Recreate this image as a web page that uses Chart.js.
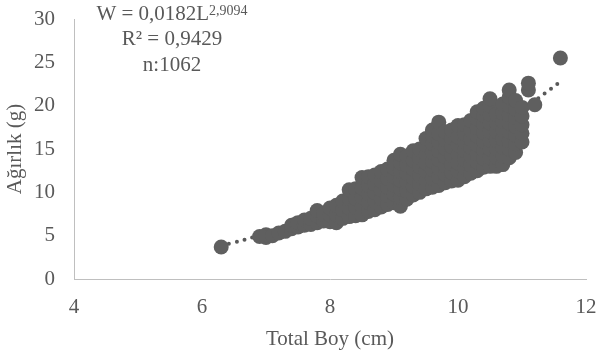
<!DOCTYPE html>
<html><head><meta charset="utf-8">
<script src="https://cdn.jsdelivr.net/npm/chart.js@4"></script>
<style>html,body{margin:0;padding:0;background:#fff;} #wrap{width:598px;height:354px;position:relative;}</style>
</head><body><div id="wrap"><canvas id="c" width="598" height="354"></canvas></div>
<script>
const xTicks = [4, 6, 8, 10, 12];
const yTicks = [0, 5, 10, 15, 20, 25, 30];
const xTitle = 'Total Boy (cm)';
const yTitle = 'Ağırlık (g)';
const eqMain = 'W = 0,0182L';
const eqExp = '2,9094';
const r2Text = 'R² = 0,9429';
const nText = 'n:1062';

const totalBoy = [
  6.3,
  6.9, 7.0, 7.0, 7.1, 7.2, 7.3,
  7.4, 7.4, 7.5, 7.5, 7.6, 7.6, 7.7, 7.7,
  7.8, 7.8, 7.8, 7.9, 7.9,
  8.0, 8.0, 8.0, 8.1, 8.1, 8.1,
  8.2, 8.2, 8.2, 8.3, 8.3, 8.3, 8.3,
  8.4, 8.4, 8.4, 8.4, 8.5, 8.5, 8.5, 8.5, 8.5,
  8.6, 8.6, 8.6, 8.6, 8.6, 8.7, 8.7, 8.7, 8.7, 8.7,
  8.8, 8.8, 8.8, 8.8, 8.8, 8.9, 8.9, 8.9, 8.9, 8.9,
  9.0, 9.0, 9.0, 9.0, 9.0, 9.0,
  9.1, 9.1, 9.1, 9.1, 9.1, 9.1, 9.1,
  9.2, 9.2, 9.2, 9.2, 9.2, 9.2,
  9.3, 9.3, 9.3, 9.3, 9.3, 9.3,
  9.4, 9.4, 9.4, 9.4, 9.4, 9.4,
  9.5, 9.5, 9.5, 9.5, 9.5, 9.5, 9.5,
  9.6, 9.6, 9.6, 9.6, 9.6, 9.6, 9.6, 9.6,
  9.7, 9.7, 9.7, 9.7, 9.7, 9.7, 9.7, 9.7,
  9.8, 9.8, 9.8, 9.8, 9.8, 9.8, 9.8,
  9.9, 9.9, 9.9, 9.9, 9.9, 9.9, 9.9,
  10.0, 10.0, 10.0, 10.0, 10.0, 10.0, 10.0,
  10.1, 10.1, 10.1, 10.1, 10.1, 10.1, 10.1,
  10.2, 10.2, 10.2, 10.2, 10.2, 10.2, 10.2,
  10.3, 10.3, 10.3, 10.3, 10.3, 10.3, 10.3, 10.3,
  10.4, 10.4, 10.4, 10.4, 10.4, 10.4, 10.4, 10.4,
  10.5, 10.5, 10.5, 10.5, 10.5, 10.5, 10.5, 10.5, 10.5,
  10.6, 10.6, 10.6, 10.6, 10.6, 10.6, 10.6,
  10.7, 10.7, 10.7, 10.7, 10.7, 10.7, 10.7, 10.7,
  10.8, 10.8, 10.8, 10.8, 10.8, 10.8, 10.8, 10.8, 10.8,
  10.9, 10.9, 10.9, 10.9, 10.9, 10.9, 10.9,
  11.0, 11.0, 11.0, 11.0, 11.0,
  11.1, 11.1, 11.2,
  11.6
];
const agirlik = [
  3.7,
  4.9, 4.8, 5.1, 5.0, 5.3, 5.5,
  5.8, 6.2, 6.0, 6.5, 6.2, 6.8, 6.3, 7.0,
  6.5, 7.3, 7.9, 6.7, 7.5,
  6.6, 7.4, 8.2, 6.5, 7.4, 8.5,
  7.0, 8.0, 9.0, 7.2, 8.2, 9.3, 10.3,
  7.3, 8.3, 9.3, 10.4, 7.4, 8.4, 9.4, 10.5, 11.7,
  7.8, 8.8, 9.8, 10.8, 11.8, 8.0, 9.0, 10.0, 11.0, 12.0,
  8.3, 9.3, 10.3, 11.3, 12.4, 8.6, 9.6, 10.6, 11.6, 12.7,
  8.8, 9.8, 10.8, 11.8, 12.8, 13.7,
  8.4, 9.4, 10.4, 11.4, 12.4, 13.4, 14.4,
  9.2, 10.2, 11.2, 12.2, 13.2, 14.2,
  9.7, 10.7, 11.7, 12.7, 13.7, 14.8,
  10.0, 11.0, 12.0, 13.0, 14.0, 15.0,
  10.4, 11.4, 12.4, 13.4, 14.4, 15.4, 16.2,
  10.6, 11.6, 12.6, 13.6, 14.6, 15.6, 16.5, 17.2,
  10.8, 11.8, 12.8, 13.8, 14.8, 15.8, 16.8, 18.1,
  11.1, 12.1, 13.1, 14.1, 15.1, 16.1, 17.0,
  11.3, 12.3, 13.3, 14.3, 15.3, 16.3, 17.2,
  11.4, 12.4, 13.4, 14.4, 15.4, 16.4, 17.7,
  11.8, 12.8, 13.8, 14.8, 15.8, 16.8, 17.8,
  12.2, 13.2, 14.2, 15.2, 16.2, 17.2, 18.3,
  12.5, 13.5, 14.5, 15.5, 16.5, 17.5, 18.5, 19.3,
  12.9, 13.9, 14.9, 15.9, 16.9, 17.9, 18.9, 19.7,
  13.0, 14.0, 15.0, 16.0, 17.0, 18.0, 19.0, 20.0, 20.8,
  13.0, 14.0, 15.0, 16.0, 17.0, 18.0, 19.0,
  13.2, 14.2, 15.2, 16.2, 17.2, 18.2, 19.2, 20.2,
  14.0, 15.0, 16.0, 17.0, 18.0, 19.0, 20.0, 21.0, 21.8,
  14.6, 15.6, 16.6, 17.6, 18.6, 19.6, 20.6,
  15.8, 16.8, 17.8, 18.8, 19.8,
  21.8, 22.6, 20.1,
  25.5
];

// power trendline as drawn in the picture (W = 0,0182 L^2,9094), values read/tabulated
const trendBoy = [6.3, 6.5, 7.0, 7.5, 8.0, 8.5, 9.0, 9.5, 10.0, 10.5, 11.0, 11.6];
const trendAgirlik = [3.85, 4.22, 5.23, 6.40, 7.72, 9.21, 10.87, 12.73, 14.77, 17.03, 19.50, 22.75];

const FONT = '"Liberation Serif", "Times New Roman", serif';
const TXT = '#595959';
const MARK = '#5f5f5f';

const scatterData = totalBoy.map((x, i) => ({x: x, y: agirlik[i]}));
const trendData = trendBoy.map((x, i) => ({x: x, y: trendAgirlik[i]}));

const annotPlugin = {
  id: 'annot',
  afterDraw(chart) {
    const ctx = chart.ctx;
    ctx.save();
    ctx.fillStyle = TXT;
    ctx.textBaseline = 'alphabetic';
    ctx.textAlign = 'left';
    const cx = 172;
    ctx.font = '21px ' + FONT;
    const w1 = ctx.measureText(eqMain).width;
    ctx.font = '14px ' + FONT;
    const w2 = ctx.measureText(eqExp).width;
    const sx = cx - (w1 + w2) / 2;
    ctx.font = '21px ' + FONT;
    ctx.fillText(eqMain, sx, 20);
    ctx.font = '14px ' + FONT;
    ctx.fillText(eqExp, sx + w1, 14.5);
    ctx.font = '21px ' + FONT;
    ctx.textAlign = 'center';
    ctx.fillText(r2Text, cx, 45);
    ctx.fillText(nText, cx, 70.5);
    ctx.restore();
  }
};

new Chart(document.getElementById('c'), {
  type: 'scatter',
  data: {
    datasets: [
      {
        data: scatterData,
        backgroundColor: MARK,
        borderWidth: 0,
        pointRadius: 7.5,
        pointHoverRadius: 7.5
      },
      {
        type: 'line',
        data: trendData,
        showLine: true,
        borderColor: '#595959',
        borderWidth: 4,
        borderDash: [0, 8],
        borderCapStyle: 'round',
        tension: 0.4,
        pointRadius: 0,
        fill: false
      }
    ]
  },
  options: {
    responsive: false,
    devicePixelRatio: 1,
    animation: false,
    events: [],
    layout: {padding: {left: 0, right: 12, top: 19, bottom: 0}},
    plugins: {legend: {display: false}, tooltip: {enabled: false}},
    scales: {
      x: {
        type: 'linear', min: 4, max: 12,
        afterBuildTicks: s => { s.ticks = xTicks.map(v => ({value: v})); },
        afterFit: s => { s.height = 75; },
        grid: {display: true, drawOnChartArea: false, drawTicks: true, tickLength: 16, color: 'rgba(0,0,0,0)'},
        border: {display: true, color: '#bfbfbf', width: 1},
        ticks: {font: {family: FONT, size: 21}, color: TXT, padding: 0, maxRotation: 0},
        title: {display: true, text: xTitle, font: {family: FONT, size: 21}, color: TXT, padding: {top: 0, bottom: 2}}
      },
      y: {
        type: 'linear', min: 0, max: 30,
        afterBuildTicks: s => { s.ticks = yTicks.map(v => ({value: v})); },
        afterFit: s => { s.width = 74; },
        grid: {display: true, drawOnChartArea: false, drawTicks: true, tickLength: 19, color: 'rgba(0,0,0,0)'},
        border: {display: true, color: '#bfbfbf', width: 1},
        ticks: {font: {family: FONT, size: 21}, color: TXT, padding: 0},
        title: {display: true, text: yTitle, font: {family: FONT, size: 21}, color: TXT, padding: {top: 3, bottom: 0}}
      }
    }
  },
  plugins: [annotPlugin]
});
</script>
</body></html>
